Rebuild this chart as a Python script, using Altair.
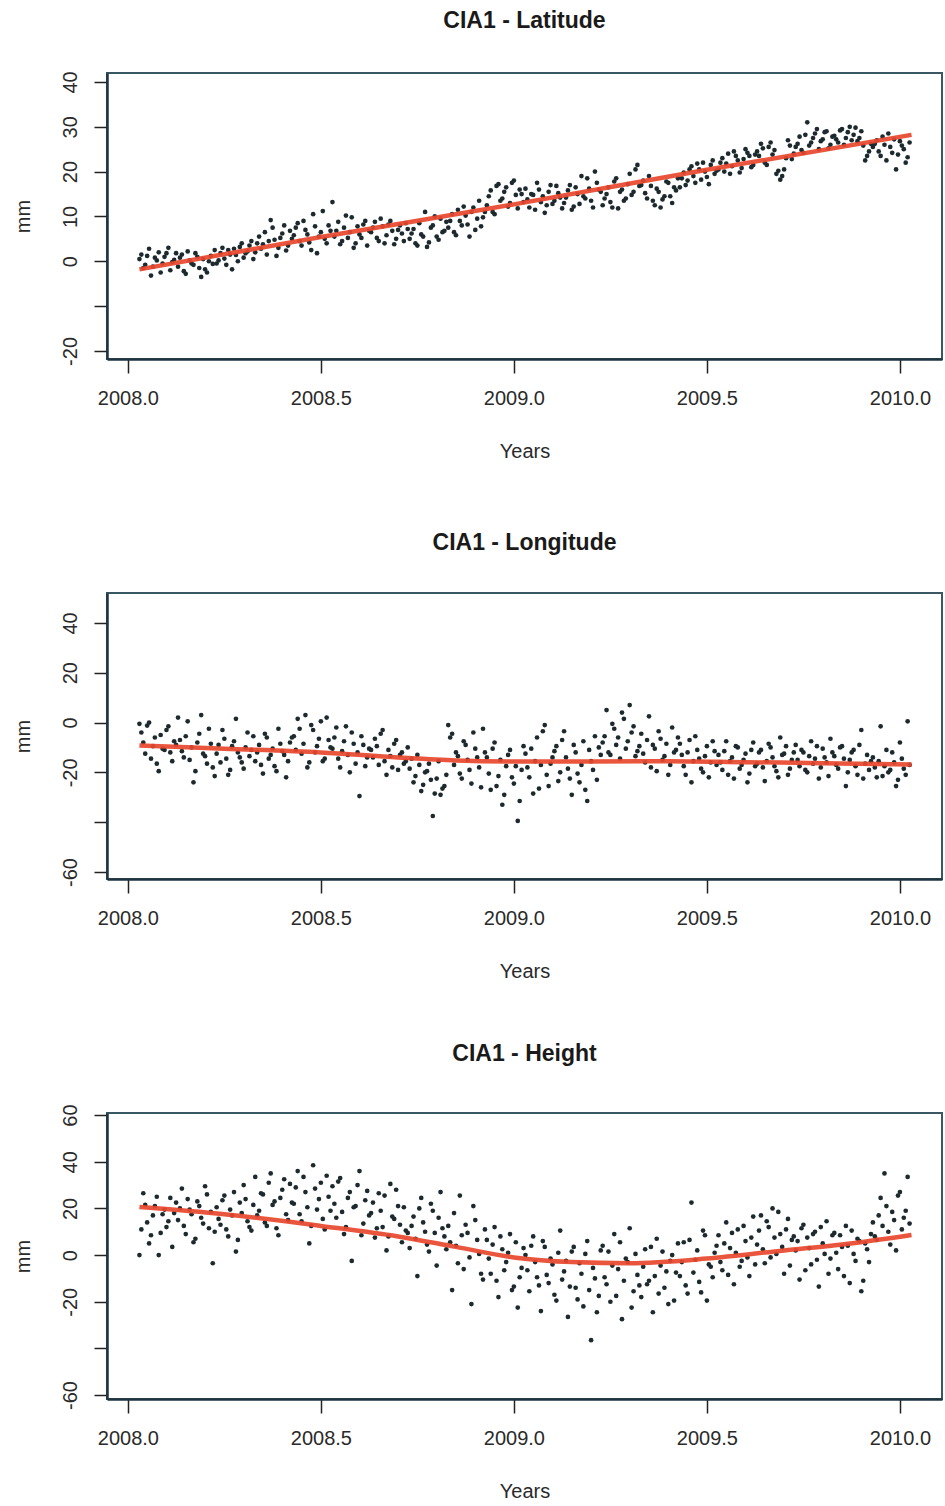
import altair as alt
import pandas as pd

# Observation epochs (decimal years), two interleaved sets
years = [
    2008.03, 2008.04, 2008.05, 2008.06, 2008.07, 2008.08, 2008.09, 2008.10, 2008.11, 2008.12,
    2008.13, 2008.14, 2008.15, 2008.16, 2008.17, 2008.18, 2008.19, 2008.20, 2008.21, 2008.22,
    2008.23, 2008.24, 2008.25, 2008.26, 2008.27, 2008.28, 2008.29, 2008.30, 2008.31, 2008.32,
    2008.33, 2008.34, 2008.35, 2008.36, 2008.37, 2008.38, 2008.39, 2008.40, 2008.41, 2008.42,
    2008.43, 2008.44, 2008.45, 2008.46, 2008.47, 2008.48, 2008.49, 2008.50, 2008.51, 2008.52,
    2008.53, 2008.54, 2008.55, 2008.56, 2008.57, 2008.58, 2008.59, 2008.60, 2008.61, 2008.62,
    2008.63, 2008.64, 2008.65, 2008.66, 2008.67, 2008.68, 2008.69, 2008.70, 2008.71, 2008.72,
    2008.73, 2008.74, 2008.75, 2008.76, 2008.77, 2008.78, 2008.79, 2008.80, 2008.81, 2008.82,
    2008.83, 2008.84, 2008.85, 2008.86, 2008.87, 2008.88, 2008.89, 2008.90, 2008.91, 2008.92,
    2008.93, 2008.94, 2008.95, 2008.96, 2008.97, 2008.98, 2008.99, 2009.00, 2009.01, 2009.02,
    2009.03, 2009.04, 2009.05, 2009.06, 2009.07, 2009.08, 2009.09, 2009.10, 2009.11, 2009.12,
    2009.13, 2009.14, 2009.15, 2009.16, 2009.17, 2009.18, 2009.19, 2009.20, 2009.21, 2009.22,
    2009.23, 2009.24, 2009.25, 2009.26, 2009.27, 2009.28, 2009.29, 2009.30, 2009.31, 2009.32,
    2009.33, 2009.34, 2009.35, 2009.36, 2009.37, 2009.38, 2009.39, 2009.40, 2009.41, 2009.42,
    2009.43, 2009.44, 2009.45, 2009.46, 2009.47, 2009.48, 2009.49, 2009.50, 2009.51, 2009.52,
    2009.53, 2009.54, 2009.55, 2009.56, 2009.57, 2009.58, 2009.59, 2009.60, 2009.61, 2009.62,
    2009.63, 2009.64, 2009.65, 2009.66, 2009.67, 2009.68, 2009.69, 2009.70, 2009.71, 2009.72,
    2009.73, 2009.74, 2009.75, 2009.76, 2009.77, 2009.78, 2009.79, 2009.80, 2009.81, 2009.82,
    2009.83, 2009.84, 2009.85, 2009.86, 2009.87, 2009.88, 2009.89, 2009.90, 2009.91, 2009.92,
    2009.93, 2009.94, 2009.95, 2009.96, 2009.97, 2009.98, 2009.99, 2010.00, 2010.01, 2010.02,
]

years_b = [
    2008.035, 2008.045, 2008.055, 2008.065, 2008.075, 2008.085, 2008.095, 2008.105, 2008.115, 2008.125,
    2008.135, 2008.145, 2008.155, 2008.165, 2008.175, 2008.185, 2008.195, 2008.205, 2008.215, 2008.225,
    2008.235, 2008.245, 2008.255, 2008.265, 2008.275, 2008.285, 2008.295, 2008.305, 2008.315, 2008.325,
    2008.335, 2008.345, 2008.355, 2008.365, 2008.375, 2008.385, 2008.395, 2008.405, 2008.415, 2008.425,
    2008.435, 2008.445, 2008.455, 2008.465, 2008.475, 2008.485, 2008.495, 2008.505, 2008.515, 2008.525,
    2008.535, 2008.545, 2008.555, 2008.565, 2008.575, 2008.585, 2008.595, 2008.605, 2008.615, 2008.625,
    2008.635, 2008.645, 2008.655, 2008.665, 2008.675, 2008.685, 2008.695, 2008.705, 2008.715, 2008.725,
    2008.735, 2008.745, 2008.755, 2008.765, 2008.775, 2008.785, 2008.795, 2008.805, 2008.815, 2008.825,
    2008.835, 2008.845, 2008.855, 2008.865, 2008.875, 2008.885, 2008.895, 2008.905, 2008.915, 2008.925,
    2008.935, 2008.945, 2008.955, 2008.965, 2008.975, 2008.985, 2008.995, 2009.005, 2009.015, 2009.025,
    2009.035, 2009.045, 2009.055, 2009.065, 2009.075, 2009.085, 2009.095, 2009.105, 2009.115, 2009.125,
    2009.135, 2009.145, 2009.155, 2009.165, 2009.175, 2009.185, 2009.195, 2009.205, 2009.215, 2009.225,
    2009.235, 2009.245, 2009.255, 2009.265, 2009.275, 2009.285, 2009.295, 2009.305, 2009.315, 2009.325,
    2009.335, 2009.345, 2009.355, 2009.365, 2009.375, 2009.385, 2009.395, 2009.405, 2009.415, 2009.425,
    2009.435, 2009.445, 2009.455, 2009.465, 2009.475, 2009.485, 2009.495, 2009.505, 2009.515, 2009.525,
    2009.535, 2009.545, 2009.555, 2009.565, 2009.575, 2009.585, 2009.595, 2009.605, 2009.615, 2009.625,
    2009.635, 2009.645, 2009.655, 2009.665, 2009.675, 2009.685, 2009.695, 2009.705, 2009.715, 2009.725,
    2009.735, 2009.745, 2009.755, 2009.765, 2009.775, 2009.785, 2009.795, 2009.805, 2009.815, 2009.825,
    2009.835, 2009.845, 2009.855, 2009.865, 2009.875, 2009.885, 2009.895, 2009.905, 2009.915, 2009.925,
    2009.935, 2009.945, 2009.955, 2009.965, 2009.975, 2009.985, 2009.995, 2010.005, 2010.015, 2010.025,
]

latitude = [
    0.5, -1.5, 1.2, -3.2, 0.8, 2.0, -0.5, 1.8, -2.0, 0.3,
    -1.2, 1.5, -2.8, 0.2, -0.8, 1.0, -3.5, -1.8, 0.0, -0.6,
    -0.5, 1.8, 0.6, 2.5, -1.8, 1.4, 3.2, 0.8, 2.2, 4.5,
    2.0, 5.5, 3.8, 1.5, 9.2, 4.8, 3.0, 6.2, 2.4, 6.8,
    5.8, 8.5, 3.5, 7.0, 4.2, 10.5, 1.8, 6.5, 5.0, 8.0,
    13.2, 6.8, 3.8, 7.5, 5.2, 9.8, 4.0, 6.0, 8.2, 3.5,
    6.5, 8.8, 4.5, 7.8, 5.8, 9.0, 3.8, 7.0, 6.2, 8.5,
    5.0, 7.2, 3.5, 6.0, 11.0, 4.2, 8.0, 5.5, 9.5, 6.8,
    7.5, 10.5, 5.8, 9.0, 12.2, 8.2, 11.0, 7.0, 13.5, 9.8,
    12.5, 15.8, 10.5, 17.2, 14.0, 16.5, 13.0, 18.0, 11.8, 15.0,
    16.2, 12.0, 14.8, 17.5, 13.2, 10.8, 15.5, 12.8, 16.8, 14.2,
    13.0, 15.8, 11.5, 16.5, 12.8, 14.5, 18.5, 13.5, 20.0, 16.0,
    12.5, 15.0, 13.2, 17.8, 11.8, 16.0, 14.0, 19.5, 15.5, 21.5,
    17.0, 15.2, 19.0, 13.5, 16.2, 12.0, 14.5, 17.5, 13.0, 15.8,
    16.5, 19.8, 18.0, 21.2, 17.5, 20.5, 22.0, 18.8, 21.5, 19.5,
    20.5, 23.0, 21.8, 19.5, 24.5, 22.5, 20.8, 25.0, 23.5, 21.5,
    24.5, 26.2, 22.0, 25.5, 23.8, 19.5, 18.2, 20.5, 27.0, 22.8,
    25.5, 27.8, 24.2, 31.0, 26.5, 28.5, 25.0, 27.2, 29.0, 26.0,
    28.0, 26.5, 29.5, 27.5, 30.0, 28.2, 26.8, 29.0, 22.5, 24.5,
    25.5, 27.0, 23.5, 26.0, 28.5, 24.2, 20.5, 26.8, 25.0, 23.2,
]

latitude_b = [
    1.5, -0.8, 2.8, -1.2, 0.2, -2.5, 1.0, 3.0, -0.2, 1.8,
    0.8, -2.2, 2.2, -0.5, 1.8, -1.5, 0.5, -2.5, 1.2, 2.5,
    0.2, 3.0, -0.8, 1.5, 2.8, 0.0, 4.0, 1.8, 3.5, 0.5,
    4.0, 2.8, 6.5, 4.5, 7.5, 1.2, 5.2, 8.0, 3.5, 5.0,
    7.5, 4.5, 9.0, 6.0, 2.5, 7.8, 5.5, 11.2, 4.0, 6.8,
    5.5, 8.8, 4.5, 10.2, 6.5, 3.0, 7.8, 5.2, 9.0, 6.8,
    7.5, 5.2, 9.5, 4.0, 8.2, 6.8, 5.0, 8.0, 4.5, 7.2,
    6.2, 4.0, 8.5, 5.5, 3.2, 7.5, 10.0, 4.8, 6.5, 8.8,
    9.0, 6.5, 11.5, 8.0, 10.2, 5.5, 12.0, 9.5, 7.8, 11.0,
    14.5, 11.0, 16.8, 13.5, 15.5, 12.2, 17.5, 14.8, 16.0, 13.2,
    13.8, 15.0, 11.5, 16.0, 14.5, 12.5, 17.0, 13.5, 15.2, 11.8,
    14.2, 17.0, 12.2, 15.0, 19.0, 14.0, 16.2, 12.0, 17.5, 15.5,
    14.0, 16.5, 12.0, 18.5, 15.5, 13.5, 17.2, 14.8, 20.5, 16.8,
    18.0, 14.0, 16.8, 12.5, 15.5, 13.8, 17.8, 14.5, 16.5, 18.5,
    18.5, 17.0, 20.5, 19.0, 21.8, 18.2, 20.0, 17.2, 22.5, 20.2,
    22.0, 20.0, 24.0, 21.2, 23.5, 19.8, 22.8, 24.2, 21.0, 23.8,
    23.5, 25.2, 21.5, 26.5, 24.8, 20.2, 19.0, 23.0, 25.8, 24.0,
    26.2, 24.8, 28.2, 25.8, 27.5, 29.5, 26.8, 28.8, 25.2, 27.8,
    27.2, 29.2, 26.0, 28.8, 27.0, 29.8, 27.5, 25.8, 23.5, 26.2,
    26.2, 24.5, 27.8, 22.5, 25.5, 27.2, 23.8, 25.8, 22.0, 26.5,
]

longitude = [
    -0.5, -8.0, -1.2, -14.5, -6.0, -19.5, -10.5, -3.0, -12.0, -7.5,
    2.0, -11.5, -5.5, -15.0, -24.0, -8.0, 3.0, -13.5, -2.5, -18.0,
    -12.5, -16.0, -6.5, -21.0, -9.5, 1.5, -14.0, -18.5, -4.0, -11.0,
    -15.5, -9.0, -20.5, -6.0, -13.0, -17.5, -2.5, -11.5, -22.0, -8.0,
    -5.5, 1.5, -12.5, 3.0, -16.0, -3.0, -9.5, 0.5, -14.5, -7.0,
    -10.5, -2.0, -18.0, -7.5, -13.0, -4.0, -16.5, -29.5, -9.0, -14.0,
    -11.0, -6.5, -17.0, -3.0, -21.0, -13.5, -8.5, -19.0, -12.0, -15.5,
    -18.5, -24.0, -13.0, -27.5, -20.0, -16.5, -37.5, -22.5, -29.0, -25.5,
    -1.0, -4.5, -12.0, -20.5, -7.5, -15.0, -24.5, -10.5, -18.0, -2.5,
    -14.0, -27.0, -8.0, -21.5, -33.0, -17.5, -11.0, -24.5, -39.5, -19.0,
    -12.5, -22.0, -28.5, -6.0, -17.0, -1.0, -25.5, -14.0, -9.5, -20.0,
    -3.5, -18.5, -29.0, -12.0, -24.0, -7.5, -31.5, -15.5, -5.5, -10.0,
    -8.0, 5.0, -13.0, -2.5, -6.0, 4.0, -10.5, 7.0, -1.5, -11.5,
    -4.5, -16.0, 2.5, -9.0, -19.5, -6.5, -13.5, -21.0, -2.0, -11.0,
    -8.5, -17.5, -12.0, -24.0, -5.5, -14.5, -20.0, -9.5, -16.0, -11.5,
    -13.0, -19.0, -7.5, -15.5, -22.5, -10.0, -17.0, -12.5, -20.5, -8.0,
    -16.5, -11.0, -23.5, -8.5, -14.0, -19.5, -6.0, -12.5, -21.0, -15.0,
    -9.0, -17.5, -12.0, -20.0, -7.5, -14.5, -22.5, -10.5, -16.0, -6.5,
    -13.5, -18.5, -9.5, -25.5, -15.0, -11.0, -21.0, -3.0, -16.5, -19.0,
    -14.0, -22.0, -1.5, -17.5, -20.0, -12.0, -25.5, -8.0, -18.5, 0.5,
]

longitude_b = [
    -4.0, -12.5, 0.0, -9.5, -16.5, -5.0, -11.0, -1.5, -15.5, -9.0,
    -7.0, -14.0, 0.5, -10.0, -19.5, -4.5, -12.5, -16.5, -8.5, -21.5,
    -9.0, -3.0, -14.5, -19.0, -7.5, -12.0, -16.0, -10.0, -13.5, -5.5,
    -12.0, -17.0, -4.5, -14.5, -10.5, -19.5, -8.5, -13.0, -15.5, -6.0,
    -11.0, -2.5, -8.5, -18.0, -1.0, -12.0, -6.5, -15.5, 2.0, -10.0,
    -6.0, -14.5, -11.5, -1.5, -20.0, -8.5, -12.0, -5.5, -17.5, -10.5,
    -14.0, -9.5, -4.5, -15.5, -11.0, -18.0, -7.0, -13.0, -16.5, -10.0,
    -14.5, -21.5, -17.0, -25.0, -19.5, -23.0, -28.5, -15.5, -26.5, -21.0,
    -6.0, -17.0, -13.5, -22.5, -9.0, -19.0, -4.0, -14.0, -26.0, -12.0,
    -20.5, -10.5, -25.5, -15.0, -29.0, -13.0, -22.0, -17.5, -31.5, -9.5,
    -18.0, -10.5, -15.5, -26.5, -3.5, -21.0, -16.5, -11.5, -23.5, -7.0,
    -14.0, -22.5, -9.0, -20.5, -17.0, -27.0, -11.0, -19.0, -23.0, -13.0,
    -5.5, -12.0, -0.5, -9.0, -14.5, 1.5, -7.5, -4.0, -13.5, -9.5,
    -12.5, -7.0, -18.0, -10.5, -3.5, -15.0, -8.5, -17.0, -12.0, -6.0,
    -13.0, -21.0, -7.0, -15.5, -11.0, -18.5, -13.5, -22.0, -7.5, -17.0,
    -16.0, -11.5, -21.0, -14.0, -9.5, -18.5, -15.0, -24.0, -11.0, -17.5,
    -12.0, -18.0, -15.5, -10.0, -17.5, -22.0, -13.0, -9.5, -18.5, -12.0,
    -15.0, -11.0, -19.0, -13.5, -16.5, -9.5, -18.0, -14.0, -21.5, -12.0,
    -17.0, -10.0, -14.5, -20.0, -12.0, -17.5, -9.0, -22.5, -13.0, -15.5,
    -18.0, -15.5, -21.5, -11.0, -19.0, -16.0, -23.0, -14.5, -21.0, -17.0,
]

height = [
    0.0, 26.5, 14.0, 8.5, 21.0, 0.0, 17.5, 12.0, 24.5, 18.0,
    15.0, 28.5, 9.0, 19.5, 5.5, 23.0, 16.0, 29.5, 11.5, -3.5,
    20.5, 13.0, 25.5, 8.0, 17.0, 1.5, 22.5, 30.0, 14.5, 10.5,
    33.5, 19.0, 26.0, 12.5, 35.0, 23.0, 8.5, 28.0, 17.5, 30.5,
    22.0, 36.0, 14.5, 27.0, 5.0, 38.5, 19.5, 31.0, 11.0, 25.0,
    29.5, 16.0, 33.0, 9.0, 24.5, -2.5, 21.0, 36.0, 13.5, 27.5,
    18.0, 7.5, 26.5, 12.0, 2.0, 30.5, 15.5, 21.0, 5.5, 10.5,
    3.0, 16.5, -9.0, 24.5, 10.0, 1.5, 19.0, -4.5, 27.0, 8.0,
    12.5, -15.0, 4.0, 25.5, -6.0, 9.5, -21.0, 15.0, 0.5, -10.5,
    6.5, -8.0, 12.0, -18.0, 2.5, -3.0, 9.0, -13.5, -22.5, -5.5,
    0.0, -15.5, 8.0, -9.5, -24.0, 3.5, -12.0, -4.0, -19.5, 10.5,
    -7.0, -26.5, 1.5, -14.0, -3.5, -22.0, 6.0, -36.5, -10.0, -17.5,
    4.0, -12.5, -20.0, 9.0, -6.0, -27.5, -1.5, 11.5, -15.5, -8.5,
    -18.0, 2.5, -11.0, -24.5, 7.0, -4.5, -14.0, -21.0, 0.0, -7.5,
    -9.0, 5.5, -16.5, 22.5, -2.0, -11.5, 10.5, -19.5, -5.0, 1.0,
    8.5, -6.5, 14.0, 3.0, -12.5, 11.0, -2.5, 6.0, -9.0, 16.5,
    4.5, 17.0, -3.5, 12.0, 20.0, 0.5, 9.0, -8.0, 15.5, 6.5,
    2.0, -10.5, 13.0, 7.5, -4.0, 10.0, -13.5, 5.0, 14.5, -1.5,
    9.5, -6.0, 3.5, 12.5, -12.0, 0.5, 7.0, -15.5, 5.0, -3.0,
    14.0, 6.5, 24.5, 35.0, 10.0, 18.5, 2.0, 27.0, 16.0, 33.5,
]

height_b = [
    11.0, 21.5, 5.0, 17.0, 25.0, 9.5, 19.5, 14.5, 3.5, 22.5,
    20.0, 12.5, 24.0, 17.5, 7.0, 21.0, 13.5, 26.0, 18.5, 10.0,
    15.5, 23.5, 11.0, 19.5, 27.0, 6.5, 18.0, 24.0, 12.0, 21.5,
    17.0, 26.5, 14.0, 31.0, 21.5, 11.5, 24.5, 32.5, 15.0, 22.5,
    29.0, 17.5, 33.5, 20.5, 12.5, 28.5, 24.0, 15.5, 34.0, 19.0,
    22.0, 31.5, 18.5, 12.0, 27.0, 20.5, 30.0, 8.5, 23.5, 17.0,
    22.5, 11.5, 19.0, 25.5, 8.0, 16.5, 28.0, 13.0, 20.5, 9.5,
    12.5, 7.0, 20.0, 14.0, 4.5, 22.0, 9.5, 16.0, 11.5, 2.5,
    5.5, 18.0, -3.5, 8.5, 13.0, -1.0, 21.0, 6.5, -8.0, 11.0,
    -1.5, 4.5, -11.0, 8.0, -6.5, 1.0, -15.0, 5.5, -9.5, 3.0,
    -6.5, 4.0, -3.0, -13.0, 6.0, -8.5, -1.5, -17.0, 1.0, -10.5,
    -2.5, -13.5, 3.5, -19.0, -8.0, 0.5, -15.0, -5.5, -24.5, 2.0,
    -9.5, 1.5, -4.5, -17.5, 5.5, -11.0, -3.0, -22.5, 0.5, -13.0,
    -5.0, -12.5, 3.5, -9.0, -16.5, 1.5, -7.0, -2.5, -19.5, 5.0,
    -3.0, -13.0, 6.5, -7.5, 2.0, -16.0, 8.5, -4.0, -9.5, 4.0,
    -3.0, 5.0, -8.5, 9.5, 1.0, -5.0, 12.5, -1.0, 7.5, -4.0,
    10.5, 2.5, 14.5, -1.0, 7.5, 18.5, 3.5, 11.0, -4.5, 8.0,
    6.0, 11.5, -6.5, 3.0, 9.0, -2.0, 12.0, 0.5, -8.0, 8.5,
    1.0, 8.5, -9.0, 4.0, 10.5, -2.5, 6.0, -11.0, 2.5, 9.0,
    8.0, 17.0, 12.5, 21.0, 4.5, 15.0, 25.5, 11.0, 19.0, 13.5,
]

# Smoothed trend curves (red lines)
lat_trend_years = [2008.03, 2008.5, 2009.0, 2009.5, 2010.03]
lat_trend = [-1.8, 5.4, 12.7, 20.4, 28.2]

lon_trend_years = [2008.03, 2008.25, 2008.5, 2008.7, 2008.85, 2009.0, 2009.2, 2009.4, 2009.6, 2009.8, 2010.03]
lon_trend = [-9.2, -10.5, -12.0, -14.0, -15.2, -15.6, -15.6, -15.5, -15.9, -16.3, -16.8]

hgt_trend_years = [2008.03, 2008.25, 2008.5, 2008.7, 2008.85, 2009.0, 2009.15, 2009.3, 2009.5, 2009.7, 2009.85, 2010.03]
hgt_trend = [20.6, 17.5, 12.5, 8.0, 3.5, -1.0, -3.0, -3.5, -1.5, 2.0, 4.5, 8.6]

x_ticks = [2008.0, 2008.5, 2009.0, 2009.5, 2010.0]

FONT = "Liberation Sans"
TEXT = "#2a2a2a"
DARK = "#1f3340"


def panel(title, yvals, yvals_b, tyears, tvals, ydomain, yticks, hidden):
    pts = pd.DataFrame({"year": years + years_b, "mm": yvals + yvals_b})
    trend = pd.DataFrame({"year": tyears, "mm": tvals})
    cond = " || ".join("datum.value == %g" % h for h in hidden)
    x = alt.X(
        "year:Q",
        scale=alt.Scale(domain=[2007.946, 2010.109], nice=False, zero=False),
        axis=alt.Axis(
            values=x_ticks, format=".1f", title="Years", grid=False,
            tickSize=14, labelPadding=15, titlePadding=33,
        ),
    )
    y = alt.Y(
        "mm:Q",
        scale=alt.Scale(domain=ydomain, nice=False, zero=False),
        axis=alt.Axis(
            values=yticks, title="mm", grid=False, tickSize=13,
            labelAngle=270, labelAlign="center", labelBaseline="bottom",
            labelPadding=14, titlePadding=27,
            labelExpr="(%s) ? '' : '' + datum.value" % cond,
        ),
    )
    points = alt.Chart(pts).mark_circle(size=22, color="#1c2a2e", opacity=1).encode(x=x, y=y)
    line = alt.Chart(trend).mark_line(
        color="#e8462e", strokeWidth=4.5, opacity=0.92, interpolate="monotone"
    ).encode(x="year:Q", y="mm:Q")
    return alt.layer(points, line).properties(
        width=835, height=286,
        title=alt.TitleParams(
            title, anchor="middle", frame="group", fontSize=23, font=FONT,
            fontWeight="bold", color="#1a1a1a", offset=38,
        ),
    )


p1 = panel("CIA1 - Latitude", latitude, latitude_b, lat_trend_years, lat_trend,
           [-21.8, 42.0], [-20, -10, 0, 10, 20, 30, 40], [-10])
p2 = panel("CIA1 - Longitude", longitude, longitude_b, lon_trend_years, lon_trend,
           [-62.8, 52.0], [-60, -40, -20, 0, 20, 40], [-40])
p3 = panel("CIA1 - Height", height, height_b, hgt_trend_years, hgt_trend,
           [-61.7, 60.9], [-60, -40, -20, 0, 20, 40, 60], [-40])

chart = (
    alt.vconcat(p1, p2, p3, spacing=234, bounds="flush")
    .properties(padding={"left": 12, "top": 8, "right": 2, "bottom": 2}, background="white")
    .configure_view(stroke="#3a5863", strokeWidth=2)
    .configure_axis(
        labelFont=FONT, titleFont=FONT, labelFontSize=20, titleFontSize=20,
        labelColor=TEXT, titleColor=TEXT, titleFontWeight="normal",
        domainColor=DARK, domainWidth=2.5, tickColor="#222222", tickWidth=1.5,
    )
)

chart.save("out.html", embed_options={"renderer": "svg", "actions": False})
